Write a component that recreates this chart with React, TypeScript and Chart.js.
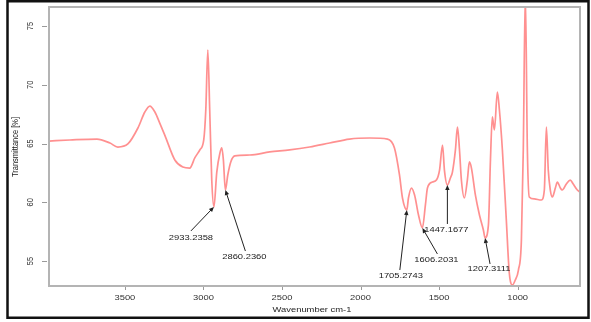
import { useEffect, useRef } from "react";
import { Chart, registerables } from "chart.js";

Chart.register(...registerables);

// FTIR spectrum, wavenumber (cm-1, descending) vs transmittance (%)
const wavenumbers = [
  3983, 3850, 3678, 3595, 3545, 3481, 3417, 3373, 3341, 3309, 3278, 3246, 3182, 3131, 3087, 3055,
  3023, 2998, 2985, 2972, 2960, 2947, 2933.2358, 2915, 2895, 2883, 2873, 2860.236, 2845, 2826, 2800,
  2705, 2578, 2451, 2324, 2197, 2070, 1942, 1828, 1784, 1752, 1733, 1705.2743, 1695, 1676, 1656,
  1631, 1606.2031, 1587, 1574, 1542, 1517, 1497, 1478, 1466, 1447.1677, 1428, 1415, 1396, 1383,
  1370, 1358, 1339, 1320, 1307, 1294, 1269, 1243, 1218, 1207.3111, 1186, 1173, 1161, 1148, 1129,
  1116, 1097, 1072, 1053, 1033, 1015, 995, 976, 964, 951, 938, 926, 894, 849, 830, 817, 805, 792,
  779, 760, 747, 728, 716, 690, 665, 646, 620, 603,
];

const transmittance = [
  65.21, 65.3, 65.38, 65.04, 64.7, 64.96, 66.32, 67.68, 68.19, 67.68, 66.74, 65.72, 63.6, 63.0, 62.91, 63.77,
  64.45, 65.3, 67.85, 72.96, 67.85, 61.89, 59.6, 62.57, 64.19, 64.62, 63.6, 61.04, 62.32, 63.43, 63.94,
  64.02, 64.28, 64.45, 64.7, 65.04, 65.38, 65.47, 65.38, 64.62, 62.32, 60.36, 59.34, 60.36, 61.21, 60.62,
  58.91, 57.81, 59.77, 61.21, 61.72, 61.89, 62.74, 64.87, 62.74, 61.47, 62.06, 62.57, 64.45, 66.4,
  64.45, 61.89, 60.36, 61.89, 63.43, 62.91, 60.62, 58.91, 57.64, 56.96, 58.06, 63.6, 67.26, 66.15, 69.38,
  67.85, 64.45, 58.49, 53.98, 52.96, 53.38, 54.23, 56.79, 64.45, 77.8, 64.45, 60.45, 60.28, 60.19, 61.04, 66.4,
  62.74, 61.04, 60.45, 61.21, 61.72, 61.21, 61.04, 61.55, 61.89, 61.55, 61.04, 60.87,
];

const xTicks = [3500, 3000, 2500, 2000, 1500, 1000];
const yTicks = [55, 60, 65, 70, 75];

// picked bands marked with arrows
const calloutWavenumbers = [2933.2358, 2860.236, 1705.2743, 1606.2031, 1447.1677, 1207.3111];

// arrow tail and label centre, in px relative to the arrow tip
const calloutLayout = [
  { tail: [-23, 24], text: [-23, 31] },
  { tail: [20, 61], text: [19, 67] },
  { tail: [-7, 60], text: [-6, 66] },
  { tail: [15, 26], text: [14, 32] },
  { tail: [0, 39], text: [-1, 45] },
  { tail: [5, 26], text: [4, 31] },
];

const FONT = '"Liberation Sans", Arial, sans-serif';
const TEXT_STRETCH = 1.25;

function drawText(
  ctx: CanvasRenderingContext2D,
  text: string,
  cx: number,
  cy: number,
  size: number,
  color: string,
  rotate = false
) {
  ctx.save();
  ctx.translate(cx, cy);
  ctx.scale(TEXT_STRETCH, 1);
  if (rotate) ctx.rotate(-Math.PI / 2);
  ctx.font = `${size}px ${FONT}`;
  ctx.fillStyle = color;
  ctx.textAlign = "center";
  ctx.textBaseline = "middle";
  ctx.fillText(text, 0, 0);
  ctx.restore();
}

function drawArrow(ctx: CanvasRenderingContext2D, fx: number, fy: number, tx: number, ty: number) {
  const ang = Math.atan2(ty - fy, tx - fx);
  const len = 5;
  const half = 2.2;
  ctx.save();
  ctx.strokeStyle = "#222";
  ctx.fillStyle = "#222";
  ctx.lineWidth = 1;
  ctx.beginPath();
  ctx.moveTo(fx, fy);
  ctx.lineTo(tx - Math.cos(ang) * len * 0.8, ty - Math.sin(ang) * len * 0.8);
  ctx.stroke();
  ctx.beginPath();
  ctx.moveTo(tx, ty);
  ctx.lineTo(
    tx - Math.cos(ang) * len - Math.sin(ang) * half,
    ty - Math.sin(ang) * len + Math.cos(ang) * half
  );
  ctx.lineTo(
    tx - Math.cos(ang) * len + Math.sin(ang) * half,
    ty - Math.sin(ang) * len - Math.cos(ang) * half
  );
  ctx.closePath();
  ctx.fill();
  ctx.restore();
}

const decorations = {
  id: "decorations",
  beforeDraw(chart: any) {
    const ctx = chart.ctx as CanvasRenderingContext2D;
    ctx.save();
    ctx.fillStyle = "#ffffff";
    ctx.fillRect(0, 0, chart.width, chart.height);
    ctx.restore();
  },
  afterDraw(chart: any) {
    const ctx = chart.ctx as CanvasRenderingContext2D;
    const a = chart.chartArea;
    const xs = chart.scales.x;
    const ys = chart.scales.y;

    // plot frame
    ctx.save();
    ctx.strokeStyle = "#b4b4b4";
    ctx.lineWidth = 2;
    ctx.strokeRect(a.left, a.top, a.right - a.left, a.bottom - a.top);

    // tick marks
    ctx.strokeStyle = "#9a9a9a";
    ctx.lineWidth = 1;
    ctx.beginPath();
    for (const t of xTicks) {
      const px = Math.round(xs.getPixelForValue(t)) + 0.5;
      ctx.moveTo(px, a.bottom + 1);
      ctx.lineTo(px, a.bottom + 4);
    }
    for (const t of yTicks) {
      const py = Math.round(ys.getPixelForValue(t)) + 0.5;
      ctx.moveTo(a.left - 7, py);
      ctx.lineTo(a.left - 2, py);
    }
    ctx.stroke();
    ctx.restore();

    // tick labels
    for (const t of xTicks) {
      drawText(ctx, String(t), xs.getPixelForValue(t), a.bottom + 12, 7.5, "#333");
    }
    for (const t of yTicks) {
      drawText(ctx, String(t), a.left - 19, ys.getPixelForValue(t), 7.5, "#333", true);
    }

    // axis titles
    drawText(ctx, "Wavenumber cm-1", 312, 310, 7.5, "#222");
    drawText(ctx, "Transmittance [%]", 15, 147, 7.5, "#222", true);

    // band callouts
    calloutWavenumbers.forEach((wn, i) => {
      const idx = wavenumbers.indexOf(wn);
      const tx = xs.getPixelForValue(wn);
      const ty = ys.getPixelForValue(transmittance[idx]);
      const lay = calloutLayout[i];
      drawArrow(ctx, tx + lay.tail[0], ty + lay.tail[1], tx, ty);
      drawText(ctx, wn.toFixed(4), tx + lay.text[0], ty + lay.text[1], 7.5, "#222");
    });

    // outer frame
    ctx.save();
    ctx.strokeStyle = "#111";
    ctx.lineWidth = 2.5;
    ctx.strokeRect(7.5, 1.25, 581, 316.5);
    ctx.restore();
  },
};

export default function App() {
  const ref = useRef<HTMLCanvasElement>(null);

  useEffect(() => {
    const canvas = ref.current;
    if (!canvas) return;
    const chart = new Chart(canvas, {
      type: "line",
      data: {
        datasets: [
          {
            data: wavenumbers.map((w, i) => ({ x: w, y: transmittance[i] })),
            borderColor: "rgba(255, 70, 70, 0.6)",
            borderWidth: 1.7,
            pointRadius: 0,
            fill: false,
            cubicInterpolationMode: "monotone",
          },
        ],
      },
      options: {
        responsive: false,
        devicePixelRatio: 1,
        animation: false,
        layout: { padding: { left: 49, right: 11, top: 7, bottom: 36 } },
        plugins: { legend: { display: false }, tooltip: { enabled: false } },
        scales: {
          x: {
            type: "linear",
            reverse: true,
            min: 603,
            max: 3983,
            ticks: { display: false },
            grid: { display: false, drawTicks: false },
            border: { display: false },
          },
          y: {
            type: "linear",
            min: 52.87,
            max: 76.62,
            ticks: { display: false },
            grid: { display: false, drawTicks: false },
            border: { display: false },
          },
        },
      },
      plugins: [decorations],
    });
    return () => chart.destroy();
  }, []);

  return (
    <div style={{ position: "fixed", left: 0, top: 0, width: 591, height: 322, background: "#fff" }}>
      <canvas ref={ref} width={591} height={322} style={{ display: "block", width: 591, height: 322 }} />
    </div>
  );
}
